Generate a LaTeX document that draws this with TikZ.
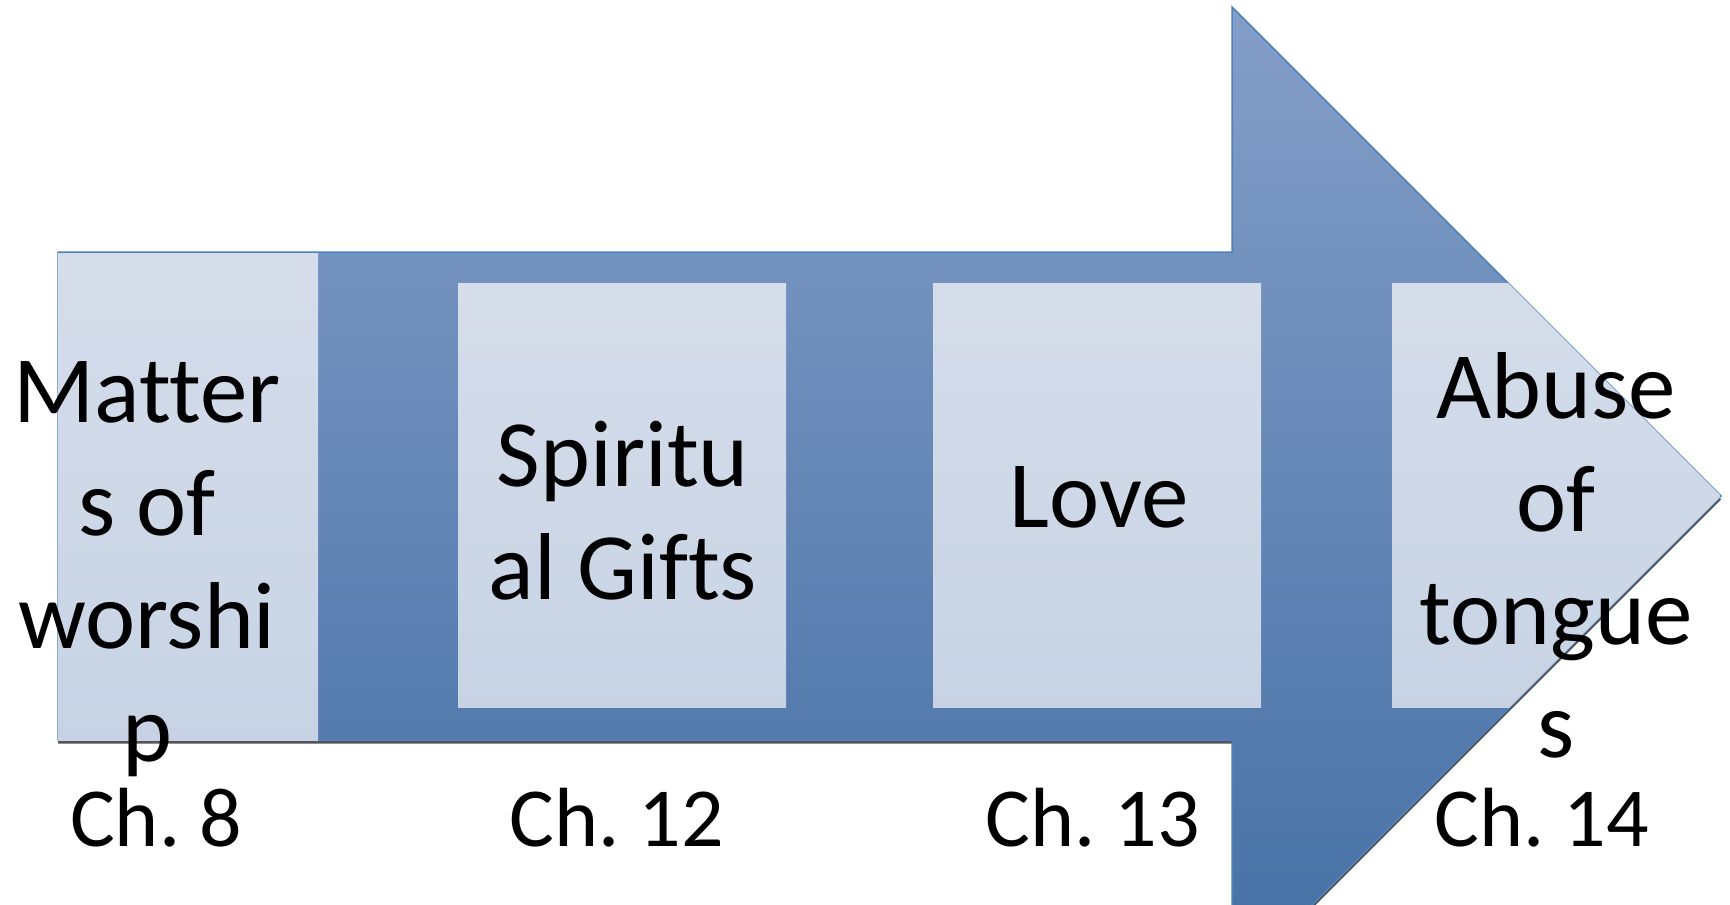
\documentclass[tikz,border=0pt]{standalone}
\usepackage{fontspec}
\setmainfont{Carlito}[Ligatures=NoCommon]
\frenchspacing

\definecolor{arrowtop}{RGB}{132,158,200}
\definecolor{arrowbot}{RGB}{68,111,164}
\definecolor{boxtop}{RGB}{213,221,234}
\definecolor{boxbot}{RGB}{199,211,228}
\definecolor{edgeblue}{RGB}{79,129,189}
\definecolor{shadowgray}{RGB}{85,85,85}

% outline of the big block arrow (in pixel units)
\newcommand{\arrowshape}{(58,252) -- (1232,252) -- (1232,7) -- (1721,496) -- (1232,985) -- (1232,740) -- (58,740) -- cycle}

\tikzset{
    % Style for the light panels on the arrow
    panel/.style={
        rectangle,
        inner sep=0pt,
        outer sep=0pt,
        top color=boxtop,
        bottom color=boxbot,
        minimum width=164pt,
        minimum height=212pt
    },
    % Style for the topic texts
    txt/.style={
        align=center,
        inner sep=0pt,
        font=\fontsize{47.5}{56.5}\selectfont
    },
    % Style for the chapter labels
    chap/.style={
        anchor=base,
        inner sep=0pt,
        font=\fontsize{42}{50}\selectfont
    }
}

\begin{document}
\begin{tikzpicture}[x=0.5pt, y=-0.5pt]
    \useasboundingbox (0,0) rectangle (1730,905);
    \clip (0,0) rectangle (1730,905);

    % --- The arrow and its shadow ---
    \fill[shadowgray, shift={(0,3.5)}] \arrowshape;
    \path[draw=edgeblue, line width=0.75pt, top color=arrowtop, bottom color=arrowbot] \arrowshape;

    % --- Panels ---
    \node[panel, minimum width=130pt, minimum height=243.5pt] (matters_box) at (188,496.5) {};
    \node[panel] (gifts_box) at (622,495) {};
    \node[panel] (love_box)  at (1097,495) {};
    \begin{scope}
        \clip \arrowshape;
        \node[panel] (abuse_box) at (1556,495) {};
    \end{scope}

    % --- Topic texts ---
    \node[txt] (matters) at (147,569) {Matter\\s of\\worshi\\p};
    \node[txt] (gifts)   at (623,511) {Spiritu\\al Gifts};
    \node[txt] (love)    at (1099,497) {Love};
    \node[txt] (abuse)   at (1556,555) {Abuse\\of\\tongue\\s};

    % --- Chapter labels ---
    \node[chap] (ch8)  at (156,846)  {Ch. 8};
    \node[chap] (ch12) at (617,846)  {Ch. 12};
    \node[chap] (ch13) at (1093,846) {Ch. 13};
    \node[chap] (ch14) at (1542,846) {Ch. 14};
\end{tikzpicture}
\end{document}
